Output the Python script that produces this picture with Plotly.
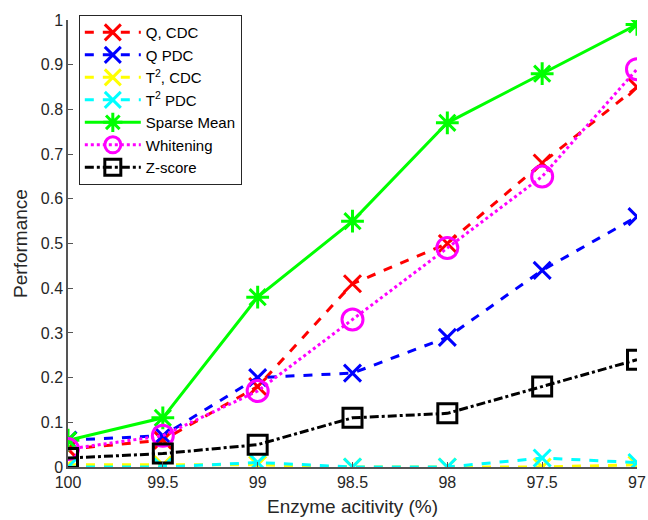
import plotly.graph_objects as go

x_vals = [100, 99.5, 99, 98.5, 98, 97.5, 97]
q_cdc = [0.04, 0.06, 0.18, 0.41, 0.50, 0.68, 0.85]
q_pdc = [0.06, 0.07, 0.20, 0.21, 0.29, 0.44, 0.56]
t2_cdc = [0.005, 0.005, 0.005, 0.0, 0.0, 0.0, 0.005]
t2_pdc = [0.0, 0.0, 0.01, 0.0, 0.0, 0.02, 0.01]
sparse_mean = [0.06, 0.11, 0.38, 0.55, 0.77, 0.88, 0.99]
whitening = [0.04, 0.07, 0.17, 0.33, 0.49, 0.65, 0.89]
z_score = [0.02, 0.03, 0.05, 0.11, 0.12, 0.18, 0.24]

x_ticks = [100, 99.5, 99, 98.5, 98, 97.5, 97]
x_tick_labels = ["100", "99.5", "99", "98.5", "98", "97.5", "97"]
y_ticks = [0, 0.1, 0.2, 0.3, 0.4, 0.5, 0.6, 0.7, 0.8, 0.9, 1]
y_tick_labels = ["0", "0.1", "0.2", "0.3", "0.4", "0.5", "0.6", "0.7", "0.8", "0.9", "1"]

series = [
    ("Q, CDC", q_cdc, "#ff0000", "dash", "x-thin-open", 17),
    ("Q PDC", q_pdc, "#0000ff", "dash", "x-thin-open", 17),
    ("T<sup>2</sup>, CDC", t2_cdc, "#ffff00", "dash", "x-thin-open", 17),
    ("T<sup>2</sup> PDC", t2_pdc, "#00ffff", "dash", "x-thin-open", 17),
    ("Sparse Mean", sparse_mean, "#00ff00", "solid", "asterisk-open", 19),
    ("Whitening", whitening, "#ff00ff", "dot", "circle-open", 21),
    ("Z-score", z_score, "#000000", "dashdot", "square-open", 19),
]

fig = go.Figure()
for name, ys, color, dash, sym, size in series:
    fig.add_trace(go.Scatter(
        x=x_vals, y=ys, name=name, mode="lines+markers",
        line=dict(color=color, width=3, dash=dash),
        marker=dict(symbol=sym, size=size, color=color, line=dict(color=color, width=3)),
    ))

fig.update_layout(
    width=648, height=520,
    margin=dict(l=68, r=11, t=20, b=53, autoexpand=False),
    plot_bgcolor="white", paper_bgcolor="white",
    font=dict(family="Liberation Sans, Arial, sans-serif", size=16, color="#262626"),
    showlegend=True,
    legend=dict(
        x=0.019, y=1.011, xanchor="left", yanchor="top",
        bordercolor="#262626", borderwidth=1, bgcolor="white",
        font=dict(size=15, color="#000000"),
        tracegroupgap=0, itemwidth=56,
    ),
)
fig.update_xaxes(
    range=[100, 97], tickvals=x_ticks, ticktext=x_tick_labels,
    showgrid=False, zeroline=False, showline=True, linecolor="#555555", linewidth=1.5,
    ticks="inside", ticklen=5, tickcolor="#555555", automargin=False,
    title=dict(text="Enzyme acitivity (%)", standoff=10),
)
fig.update_yaxes(
    range=[0, 1], tickvals=y_ticks, ticktext=y_tick_labels,
    showgrid=False, zeroline=False, showline=True, linecolor="#555555", linewidth=1.5,
    ticks="inside", ticklen=5, tickcolor="#555555", automargin=False,
    title=dict(text="Performance", standoff=8),
)

fig.write_html(
    "out.html",
    config={"displayModeBar": False},
    post_script="document.body.style.margin='0';document.body.style.overflow='hidden';",
)
